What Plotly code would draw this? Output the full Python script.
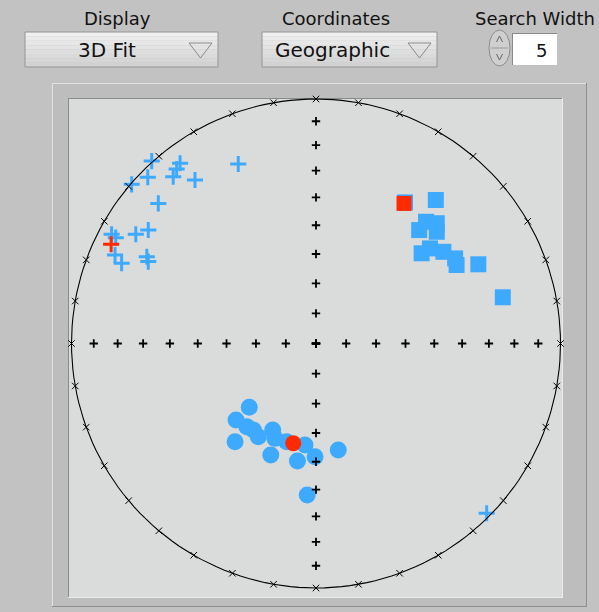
import math
import plotly.graph_objects as go

W, H = 599, 612

# Fitted directions on the lower-hemisphere equal-area net (unit radius, east / north)
cross_east = [-0.672, -0.556, -0.570, -0.584, -0.688, -0.495, -0.318, -0.754, -0.645,
              -0.737, -0.686, -0.836, -0.819, -0.822, -0.795, -0.692, -0.686, 0.698]
cross_north = [0.746, 0.737, 0.714, 0.682, 0.680, 0.669, 0.734, 0.651, 0.573,
               0.447, 0.464, 0.447, 0.433, 0.362, 0.328, 0.355, 0.335, -0.694]
cross_fit = (-0.838, 0.406)

square_east = [0.364, 0.490, 0.450, 0.494, 0.422, 0.494, 0.432, 0.466, 0.521,
               0.569, 0.575, 0.664, 0.764]
square_north = [0.577, 0.587, 0.498, 0.492, 0.464, 0.457, 0.369, 0.389, 0.375,
                0.348, 0.321, 0.324, 0.189]
square_fit = (0.360, 0.573)

circle_east = [-0.273, -0.327, -0.283, -0.256, -0.236, -0.331, -0.177, -0.168, -0.185,
               -0.120, -0.045, -0.076, -0.004, 0.091, -0.036]
circle_north = [-0.261, -0.313, -0.340, -0.354, -0.381, -0.402, -0.354, -0.388, -0.456,
                -0.402, -0.415, -0.481, -0.463, -0.436, -0.620]
circle_fit = (-0.093, -0.408)

# Net graticule: azimuth ticks on the primitive, dip ticks on the axes
azimuth_ticks = list(range(0, 360, 10))
dip_ticks = [10, 20, 30, 40, 50, 60, 70, 80, 90]

# Control panel contents
display_label, display_value = "Display", "3D Fit"
coord_label, coord_value = "Coordinates", "Geographic"
search_label, search_value = "Search Width", "5"

BLUE = "#3eaaff"
RED = "#ff2a00"
FONT = "DejaVu Sans"


def xp(px):
    return px / W


def yp(py):
    return 1 - py / H


# Net placement in pixels
CX, CY, R = 316.0, 343.5, 244.5
PAD = 1.06
xdom = [xp(CX - R * PAD), xp(CX + R * PAD)]
ydom = [yp(CY + R * PAD), yp(CY - R * PAD)]

fig = go.Figure()

# data
fig.add_trace(go.Scatter(x=cross_east, y=cross_north, mode="markers", cliponaxis=False,
                         marker=dict(symbol="cross-thin", size=11.5,
                                     line=dict(color=BLUE, width=3))))
fig.add_trace(go.Scatter(x=[cross_fit[0]], y=[cross_fit[1]], mode="markers", cliponaxis=False,
                         marker=dict(symbol="cross-thin", size=11.5,
                                     line=dict(color=RED, width=3))))
fig.add_trace(go.Scatter(x=square_east, y=square_north, mode="markers", cliponaxis=False,
                         marker=dict(symbol="square", size=16, color=BLUE, line=dict(width=0))))
fig.add_trace(go.Scatter(x=[square_fit[0]], y=[square_fit[1]], mode="markers", cliponaxis=False,
                         marker=dict(symbol="square", size=15, color=RED, line=dict(width=0))))
fig.add_trace(go.Scatter(x=circle_east, y=circle_north, mode="markers", cliponaxis=False,
                         marker=dict(symbol="circle", size=17, color=BLUE, line=dict(width=0))))
fig.add_trace(go.Scatter(x=[circle_fit[0]], y=[circle_fit[1]], mode="markers", cliponaxis=False,
                         marker=dict(symbol="circle", size=16, color=RED, line=dict(width=0))))

# primitive circle
ang = [i * math.pi / 180 for i in range(0, 361, 2)]
fig.add_trace(go.Scatter(x=[math.sin(a) for a in ang], y=[math.cos(a) for a in ang],
                         mode="lines", line=dict(color="black", width=1.1), cliponaxis=False))
fig.add_trace(go.Scatter(x=[math.sin(math.radians(a)) for a in azimuth_ticks],
                         y=[math.cos(math.radians(a)) for a in azimuth_ticks],
                         mode="markers", cliponaxis=False,
                         marker=dict(symbol="x-thin", size=6.5, line=dict(color="black", width=1))))

# dip ticks along the N-S and E-W axes (equal-area radius)
dx, dy = [], []
for d in dip_ticks:
    r = math.sqrt(2) * math.sin(math.radians((90 - d) / 2))
    for ex, ny in ((0, 1), (0, -1), (1, 0), (-1, 0)):
        dx.append(ex * r)
        dy.append(ny * r)
fig.add_trace(go.Scatter(x=dx, y=dy, mode="markers", cliponaxis=False,
                         marker=dict(symbol="cross-thin", size=6,
                                     line=dict(color="black", width=1.8))))

shapes = []


def rect(x0, y0, x1, y1, fill, line=None, lw=0):
    shapes.append(dict(type="rect", xref="paper", yref="paper", layer="below",
                       x0=xp(x0), x1=xp(x1), y0=yp(y1), y1=yp(y0),
                       fillcolor=fill, line=dict(color=line or fill, width=lw)))


def hline(x0, x1, y, color, lw=1):
    shapes.append(dict(type="line", xref="paper", yref="paper", layer="below",
                       x0=xp(x0), x1=xp(x1), y0=yp(y), y1=yp(y), line=dict(color=color, width=lw)))


def vline(x, y0, y1, color, lw=1):
    shapes.append(dict(type="line", xref="paper", yref="paper", layer="below",
                       x0=xp(x), x1=xp(x), y0=yp(y0), y1=yp(y1), line=dict(color=color, width=lw)))


# graph frame
rect(52, 83, 587, 607, "#bdbdbd")
hline(52, 587, 83.5, "#e2e2e2")
vline(52.5, 83, 607, "#e2e2e2")
hline(52, 587, 606.5, "#8e8e8e")
vline(586.5, 83, 607, "#8e8e8e")
rect(68, 98, 563, 598, "#dadcdc")
hline(68, 563, 98.5, "#8a8a8a")
vline(68.5, 98, 598, "#8a8a8a")
hline(68, 563, 597.5, "#ececec")
vline(562.5, 98, 598, "#ececec")


def button(x0, y0, x1, y1):
    steps = 8
    for i in range(steps):
        t = i / (steps - 1)
        c = int(240 - 30 * t)
        rect(x0, y0 + (y1 - y0) * i / steps, x1, y0 + (y1 - y0) * (i + 1) / steps,
             f"rgb({c},{c},{c})")
    shapes.append(dict(type="rect", xref="paper", yref="paper", layer="below",
                       x0=xp(x0), x1=xp(x1), y0=yp(y1), y1=yp(y0),
                       fillcolor="rgba(0,0,0,0)", line=dict(color="#949494", width=1)))
    # drop-down arrow
    ax0, ax1, ay0, ay1 = x1 - 29, x1 - 6, y0 + 11, y0 + 26
    shapes.append(dict(type="path", xref="paper", yref="paper", layer="below",
                       path=f"M{xp(ax0)},{yp(ay0)} L{xp(ax1)},{yp(ay0)} L{xp((ax0 + ax1) / 2)},{yp(ay1)} Z",
                       fillcolor="rgba(0,0,0,0)", line=dict(color="#8a8a8a", width=1)))


button(25, 32, 218, 67)
button(262, 32, 437, 67)

# spinner + numeric field
shapes.append(dict(type="circle", xref="paper", yref="paper", layer="below",
                   x0=xp(489), x1=xp(510), y0=yp(66), y1=yp(30),
                   fillcolor="#cfcfcf", line=dict(color="#8c8c8c", width=1)))
hline(491, 508, 48, "#9a9a9a")
for (ya, yb) in ((42, 36), (54, 60)):
    shapes.append(dict(type="path", xref="paper", yref="paper", layer="below",
                       path=f"M{xp(496.5)},{yp(ya)} L{xp(499.5)},{yp(yb)} L{xp(502.5)},{yp(ya)}",
                       line=dict(color="#666666", width=1)))
rect(512, 33, 557, 65, "white")
hline(512, 557, 33.5, "#8a8a8a")
vline(512.5, 33, 65, "#8a8a8a")

annotations = []


def text(s, x, y, size, anchor="center"):
    annotations.append(dict(text=s, x=xp(x), y=yp(y), xref="paper", yref="paper",
                            xanchor=anchor, yanchor="middle", showarrow=False,
                            font=dict(family=FONT, size=size, color="#111111")))


text(display_label, 117, 18, 18)
text(coord_label, 336, 18, 18)
text(search_label, 535, 18, 18)
text(display_value, 107, 50, 20)
text(coord_value, 332, 50, 20)
text(search_value, 549, 50, 18, anchor="right")

axis = dict(visible=False, range=[-PAD, PAD], fixedrange=True)
fig.update_layout(
    width=W, height=H, autosize=False,
    margin=dict(l=0, r=0, t=0, b=0),
    paper_bgcolor="#c2c2c2", plot_bgcolor="rgba(0,0,0,0)",
    showlegend=False,
    xaxis=dict(axis, domain=xdom),
    yaxis=dict(axis, domain=ydom),
    shapes=shapes, annotations=annotations,
)

fig.write_html("out.html")
